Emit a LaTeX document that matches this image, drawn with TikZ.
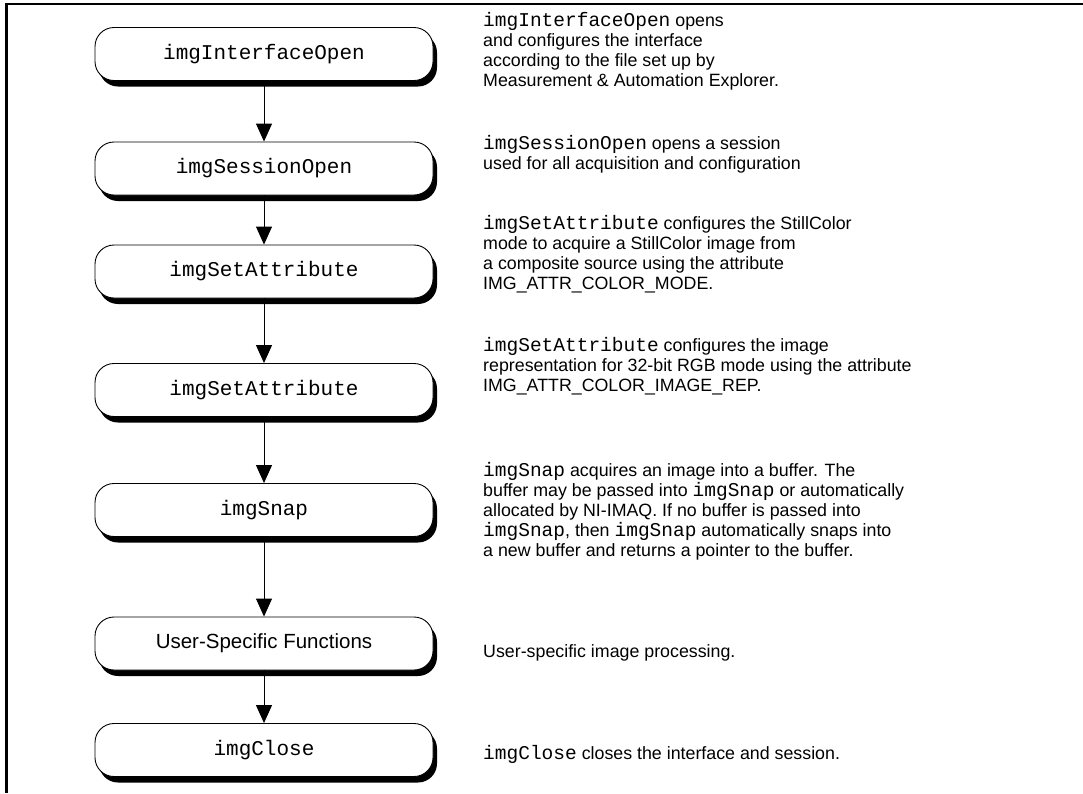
\documentclass[tikz,border=0pt]{standalone}
\usepackage{fontspec}
\setmainfont{Liberation Sans}
\setmonofont{Liberation Mono}
\usetikzlibrary{arrows.meta}
\newcommand{\mn}[1]{{\fontsize{19.5}{20}\ttfamily #1}}
\tikzset{
  fbox/.style={draw=black, line width=0.9pt, fill=white, rounded corners=19pt,
    minimum width=338pt, minimum height=53pt, inner sep=0pt,
    font=\fontsize{21}{22}\ttfamily,
    preaction={fill=black, transform canvas={xshift=4pt, yshift=-6pt}}},
  sbox/.style={fbox, font=\fontsize{20.5}{22}\selectfont},
  arr/.style={line width=1pt, -{Triangle[length=18pt,width=16pt]}},
  desc/.style={anchor=north west, inner sep=0pt, align=left,
    font=\fontsize{17.8}{20}\selectfont},
  frame/.style={line width=2.6pt, line join=miter}
}
\begin{document}
\begin{tikzpicture}[x=1pt, y=-1pt]
\useasboundingbox (0,0) rectangle (1083,793);
\draw[frame] (6.5,793) -- (6.5,4) -- (1083,4);

\node[fbox] (b1) at (264,54) {imgInterfaceOpen};
\node[fbox] (b2) at (264,168.5) {imgSessionOpen};
\node[fbox] (b3) at (264,271.5) {imgSetAttribute};
\node[fbox] (b4) at (264,390) {imgSetAttribute};
\node[fbox] (b5) at (264,510) {imgSnap};
\node[sbox] (b6) at (264,643.5) {User-Specific Functions};
\node[fbox] (b7) at (264,750) {imgClose};

\draw[arr] (b1.south) -- (b2.north);
\draw[arr] (b2.south) -- (b3.north);
\draw[arr] (b3.south) -- (b4.north);
\draw[arr] (b4.south) -- (b5.north);
\draw[arr] (b5.south) -- (b6.north);
\draw[arr] (b6.south) -- (b7.north);

\node[desc] (t1) at (483,12) {\rule{0pt}{14pt}\mn{imgInterfaceOpen} opens\\and configures the interface\\according to the file set up by\\Measurement \& Automation Explorer.};
\node[desc] (t2) at (483,135) {\rule{0pt}{14pt}\mn{imgSessionOpen} opens a session\\used for all acquisition and configuration};
\node[desc] (t3) at (483,215) {\rule{0pt}{14pt}\mn{imgSetAttribute} configures the StillColor\\mode to acquire a StillColor image from\\a composite source using the attribute\\IMG\_ATTR\_COLOR\_MODE.};
\node[desc] (t4) at (483,337) {\rule{0pt}{14pt}\mn{imgSetAttribute} configures the image\\representation for 32-bit RGB mode using the attribute\\IMG\_ATTR\_COLOR\_IMAGE\_REP.};
\node[desc] (t5) at (483,462) {\rule{0pt}{14pt}\mn{imgSnap} acquires an image into a buffer. The\\buffer may be passed into \mn{imgSnap} or automatically\\allocated by NI-IMAQ. If no buffer is passed into\\\mn{imgSnap}, then \mn{imgSnap} automatically snaps into\\a new buffer and returns a pointer to the buffer.};
\node[desc] (t6) at (483,643) {\rule{0pt}{14pt}User-specific image processing.};
\node[desc] (t7) at (483,745) {\rule{0pt}{14pt}\mn{imgClose} closes the interface and session.};
\end{tikzpicture}
\end{document}
